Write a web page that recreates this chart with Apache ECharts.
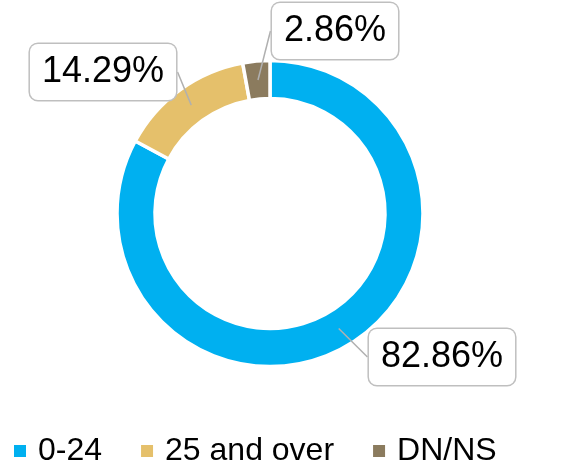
<!DOCTYPE html>
<html>
<head>
<meta charset="utf-8">
<script src="https://cdn.jsdelivr.net/npm/echarts@6/dist/echarts.min.js"></script>
<style>
  html, body { margin: 0; padding: 0; background: #fff; }
  #chart { width: 572px; height: 470px; }
</style>
</head>
<body>
<div id="chart"></div>
<script>
// categories and counts (29 / 5 / 1 of 35)
const categories = ['0-24', '25 and over', 'DN/NS'];
const counts = [29, 5, 1];
const colors = ['#00b0f0', '#e5c06b', '#8b7b5e'];
// where each callout box sits (centre, px)
const labelPos = [[442, 357], [103, 72], [335, 31]];

const font = '"Liberation Sans", Arial, sans-serif';
const total = counts.reduce((a, b) => a + b, 0);

const ringData = categories.map((name, i) => ({
  name: name,
  value: counts[i],
  itemStyle: { color: colors[i] }
}));
const calloutData = categories.map((name, i) => ({ name: name, value: counts[i] }));

const chart = echarts.init(document.getElementById('chart'));
chart.setOption({
  animation: false,
  legend: {
    left: 12,
    top: 435,
    padding: 0,
    icon: 'rect',
    itemWidth: 14,
    itemHeight: 14,
    itemGap: 37,
    selectedMode: false,
    textStyle: {
      fontFamily: font,
      fontSize: 32,
      color: '#000',
      padding: [0, 0, 0, 6]
    },
    data: categories.map((name, i) => ({ name: name, itemStyle: { color: colors[i] } }))
  },
  series: [
    {
      type: 'pie',
      center: [270, 213.5],
      radius: [115, 153],
      startAngle: 90,
      clockwise: true,
      avoidLabelOverlap: false,
      label: { show: false },
      labelLine: { show: false },
      emphasis: { disabled: true },
      itemStyle: { borderColor: '#fff', borderWidth: 3.5 },
      data: ringData
    },
    {
      // invisible copy, only used to hang the callouts from the middle of the ring
      type: 'pie',
      center: [270, 213.5],
      radius: [0, 134],
      startAngle: 90,
      clockwise: true,
      silent: true,
      avoidLabelOverlap: false,
      emphasis: { disabled: true },
      itemStyle: { color: 'rgba(0,0,0,0)', borderWidth: 0 },
      label: {
        show: true,
        position: 'outside',
        formatter: p => (p.value / total * 100).toFixed(2) + '%',
        fontFamily: font,
        fontSize: 36,
        lineHeight: 36,
        color: '#000',
        backgroundColor: '#fff',
        borderColor: '#bfbfbf',
        borderWidth: 1.5,
        borderRadius: 8,
        padding: [10, 12, 10, 12]
      },
      labelLine: {
        show: true,
        showAbove: true,
        length: 10,
        length2: 0,
        lineStyle: { color: '#b0b0b0', width: 1.5 }
      },
      labelLayout: function (params) {
        const p = labelPos[params.dataIndex];
        return { x: p[0], y: p[1], align: 'center', verticalAlign: 'middle' };
      },
      data: calloutData
    }
  ]
});
</script>
</body>
</html>
